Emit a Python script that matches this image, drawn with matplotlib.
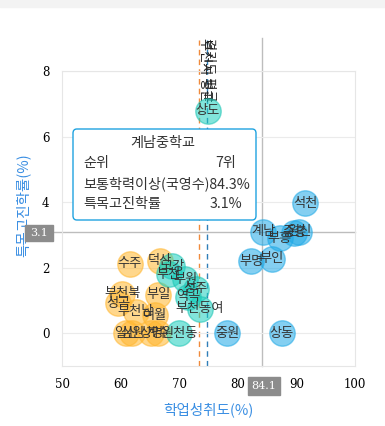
import matplotlib.pyplot as plt
from matplotlib.patches import FancyBboxPatch, Rectangle

plt.rcParams['font.family'] = ['Noto Sans CJK KR', 'DejaVu Sans']

# school bubbles: name, 학업성취도, 특목고진학률
blue_names = ['석천', '계남', '부흥', '중흥', '원신', '부명', '부인', '중원', '상동']
blue_x = [91.5, 84.3, 87.2, 89.6, 90.5, 82.3, 85.8, 78.2, 87.5]
blue_y = [3.97, 3.1, 2.9, 3.06, 3.1, 2.2, 2.27, 0.0, 0.0]

teal_names = ['상도', '고강', '부천', '부원', '성주', '역곡', '부천동여', '원천동']
teal_x = [74.9, 68.8, 68.2, 71.0, 72.8, 71.5, 73.5, 70.0]
teal_y = [6.79, 2.05, 1.8, 1.64, 1.35, 1.12, 0.75, 0.0]

orange_names = ['수주', '덕산', '부천북', '성곡', '부일', '부천남', '여월', '일신', '심원', '상명', '계수']
orange_x = [61.6, 66.7, 60.3, 59.6, 66.4, 62.6, 65.8, 61.0, 62.0, 65.2, 66.3]
orange_y = [2.12, 2.21, 1.2, 0.92, 1.18, 0.66, 0.55, 0.0, 0.0, 0.0, 0.0]

avg_x = 84.1
avg_y = 3.1
city_avg = 73.4
prov_avg = 74.7

fig = plt.figure(figsize=(3.85, 4.26), dpi=100)
fig.patches.append(Rectangle((0, 419 / 426), 1, 7 / 426, transform=fig.transFigure,
                             color='#f3f3f3', zorder=0))
ax = fig.add_axes([62 / 385, 60 / 426, 293 / 385, 295 / 426])
ax.set_xlim(50, 100)
ax.set_ylim(-1, 8)
ax.set_xticks(range(50, 101, 10))
ax.set_yticks(range(0, 9, 2))
ax.tick_params(length=0, labelsize=8.5, pad=9)
for lbl in ax.get_xticklabels() + ax.get_yticklabels():
    lbl.set_family('DejaVu Serif')
ax.grid(axis='y', color='#ebebeb', lw=0.8)
for s in ax.spines.values():
    s.set_color('#e6e6e6')
    s.set_linewidth(0.8)

# reference lines
ax.plot([avg_x, avg_x], [-1, 9.0], color='#bdbdbd', lw=1, clip_on=False, zorder=1)
ax.plot([44.0, 100], [avg_y, avg_y], color='#bdbdbd', lw=1, clip_on=False, zorder=1)
ax.plot([city_avg, city_avg], [-1, 8.95], color='#f08a3c', lw=1, ls=(0, (4, 3)), clip_on=False, zorder=1)
ax.plot([prov_avg, prov_avg], [-1, 8.95], color='#2f7fb8', lw=1, ls=(0, (4, 3)), clip_on=False, zorder=1)
ax.text(city_avg + 1.0, 9.0, '부천시 평균', rotation=-90, ha='center', va='top',
        fontsize=9.5, color='#222222', clip_on=False)
ax.text(prov_avg + 0.3, 9.0, '경기도 평균', rotation=-90, ha='center', va='top',
        fontsize=9.5, color='#222222', clip_on=False)

size = 335
ax.scatter(orange_x, orange_y, s=size, color='#ffb62e', alpha=0.55,
           edgecolors='#ffb62e', linewidths=1, zorder=3)
ax.scatter(teal_x, teal_y, s=size, color='#1ccfbe', alpha=0.55,
           edgecolors='#1cc4b4', linewidths=1, zorder=3)
ax.scatter(blue_x, blue_y, s=size, color='#1fa9e6', alpha=0.55,
           edgecolors='#1fa9e6', linewidths=1, zorder=3)

for names, xs, ys in [(orange_names, orange_x, orange_y),
                      (teal_names, teal_x, teal_y),
                      (blue_names, blue_x, blue_y)]:
    for n, x, y in zip(names, xs, ys):
        ax.text(x, y, n, ha='center', va='center', fontsize=9.5, color='#333333', zorder=4)

fig.text(208 / 385, 1 - 410 / 426, '학업성취도(%)', ha='center', va='center',
         fontsize=10.5, color='#3b8fe3')
fig.text(23 / 385, 1 - 205 / 426, '특목고진학률(%)', ha='center', va='center',
         rotation=90, fontsize=10.5, color='#3b8fe3')

# axis pointer labels
def tag(cx, cy, w, h, s):
    fig.patches.append(Rectangle(((cx - w / 2) / 385, 1 - (cy + h / 2) / 426), w / 385, h / 426,
                                 transform=fig.transFigure, color='#8c8c8c', zorder=5))
    fig.text(cx / 385, 1 - cy / 426, s, ha='center', va='center', fontsize=8,
             color='white', family='DejaVu Serif', zorder=6)

tag(39, 233, 28, 16, f'{avg_y}')
tag(264, 386, 32, 18, f'{avg_x}')

# tooltip
box = FancyBboxPatch((73 / 385, 1 - 220 / 426), 183 / 385, 91 / 426,
                     boxstyle='round,pad=0,rounding_size=0.01', transform=fig.transFigure,
                     facecolor='white', edgecolor='#1fa3e0', lw=1, zorder=7)
fig.patches.append(box)
fig.text(163 / 385, 1 - 143 / 426, '계남중학교', ha='center', va='center', fontsize=10.2,
         color='#333333', zorder=8)
fs = 10.2
fig.text(83 / 385, 1 - 163 / 426, '순위', ha='left', va='center', fontsize=fs, color='#333333', zorder=8)
fig.text(236 / 385, 1 - 163 / 426, '7위', ha='right', va='center', fontsize=fs, color='#333333', zorder=8)
fig.text(83 / 385, 1 - 183.5 / 426, '보통학력이상(국영수)84.3%', ha='left', va='center',
         fontsize=fs, color='#333333', zorder=8)
fig.text(83 / 385, 1 - 204 / 426, '특목고진학률', ha='left', va='center', fontsize=fs, color='#333333', zorder=8)
fig.text(242 / 385, 1 - 204 / 426, '3.1%', ha='right', va='center', fontsize=fs, color='#333333', zorder=8)

fig.savefig('out.png', dpi=100)
